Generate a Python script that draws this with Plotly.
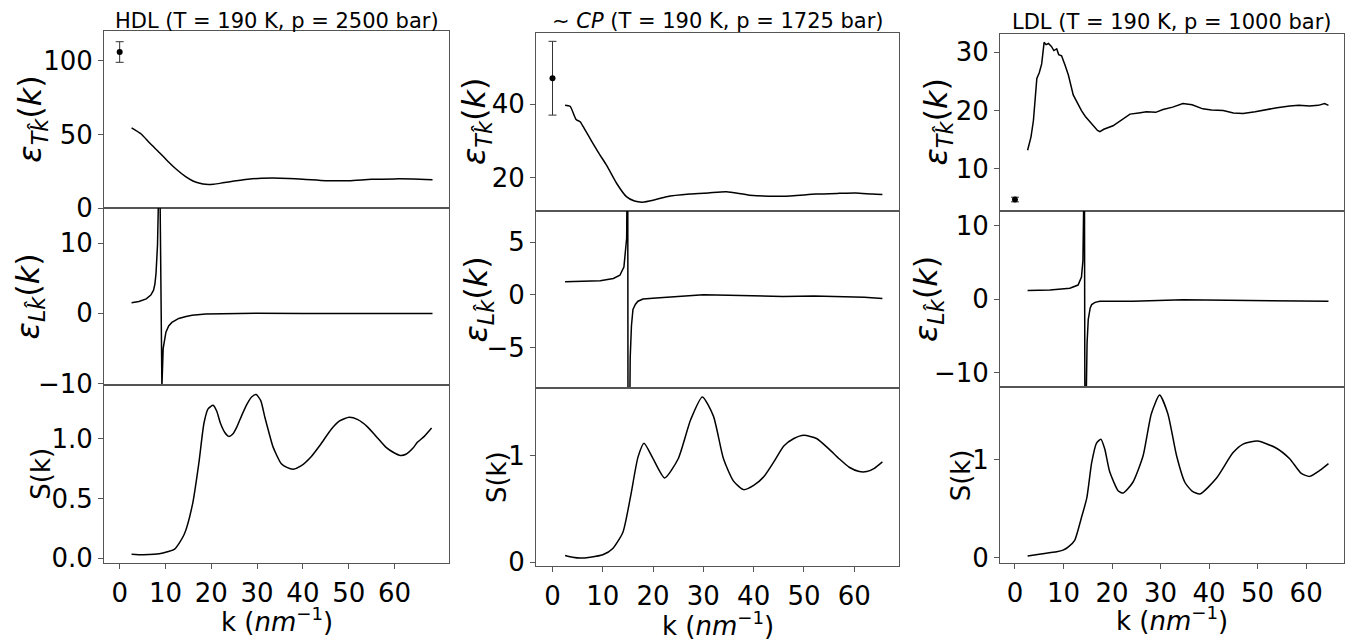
import plotly.graph_objects as go

# ---------------- data ----------------
# HDL (T = 190 K, p = 2500 bar)
k_hdl_T = [2.6, 4.7, 6.5, 8.7, 10.5, 12.5, 14.4, 16, 17.5, 18.8, 20.5, 22.5, 25, 28, 31, 35, 40, 45, 50, 55, 60, 64, 68.3]
eps_T_hdl = [54.5, 50.3, 44.3, 37.6, 31.8, 26.0, 21.3, 18.4, 16.8, 16.1, 16.2, 17.1, 18.3, 19.5, 20.2, 20.3, 19.6, 18.6, 18.6, 19.5, 19.8, 19.7, 19.2]
k0_hdl, eps0_hdl, err0_hdl = [0.0], [106.0], [7.0]

k_hdl_L = [2.6, 4.2, 5.8, 6.8, 7.4, 7.7, 7.94, 8.26, 8.45, 8.62, 9.22, 9.5, 10.1, 10.7, 11.4, 12.9, 14.5, 15.8, 18.8, 25, 30, 40, 50, 60, 68.3]
eps_L_hdl = [1.49, 1.68, 2.05, 2.6, 3.3, 4.2, 5.7, 9.7, 15.5, 30.0, -10.5, -5.0, -2.7, -1.8, -1.3, -0.74, -0.45, -0.28, -0.1, -0.02, 0.0, -0.05, -0.05, -0.05, -0.05]

k_hdl_S = [2.6, 5, 7.5, 9.7, 12, 14.1, 15.9, 17.3, 18.4, 19.3, 20.4, 21.2, 22, 23, 23.8, 24.7, 25.6, 26.7, 27.8, 28.8, 29.8,
           30.8, 31.7, 32.6, 33.5, 35.3, 36.5, 37.9, 39.5, 41.8, 44, 46.2, 48, 50.1, 52, 54.1, 56, 58.1, 59.8, 61.3,
           62.5, 64, 65, 66.5, 68.1]
S_hdl = [0.033, 0.028, 0.032, 0.046, 0.075, 0.2, 0.45, 0.80, 1.13, 1.25, 1.28, 1.23, 1.13, 1.05, 1.02, 1.04, 1.10, 1.2, 1.29, 1.35, 1.37,
         1.32, 1.18, 1.05, 0.93, 0.79, 0.76, 0.745, 0.77, 0.85, 0.96, 1.08, 1.15, 1.18, 1.16, 1.10, 1.02, 0.93, 0.885, 0.86,
         0.87, 0.92, 0.97, 1.02, 1.09]

# ~CP (T = 190 K, p = 1725 bar)
k_cp_T = [2.5, 3.5, 4.7, 5.5, 6.3, 7.8, 9.3, 10.8, 12.8, 14.7, 16.3, 17.9, 20, 22.7, 27.3, 31, 34.6, 39.2, 45.8, 52.4, 57, 60.3, 63.6, 65.6]
eps_T_cp = [39.7, 39.4, 35.8, 35.2, 33.4, 29.9, 26.5, 23.3, 18.4, 14.9, 13.7, 13.4, 13.9, 14.9, 15.6, 15.9, 16.2, 15.3, 15.0, 15.6, 15.8, 15.9, 15.6, 15.5]
k0_cp, eps0_cp, err0_cp = [0.0], [47.0], [10.0]

k_cp_L = [2.5, 6, 9.5, 12.1, 13.4, 14.2, 14.75, 14.95, 15.05, 15.45, 15.7, 16.0, 16.5, 17.0, 18.0, 20.6, 25, 30, 35, 40, 45.8, 52, 58, 62, 65.6]
eps_L_cp = [1.24, 1.27, 1.34, 1.55, 1.86, 2.64, 5.4, 20.0, -30.0, -6.0, -2.94, -1.39, -0.9, -0.61, -0.4, -0.31, -0.15, 0.0, -0.03, -0.08, -0.15, -0.12, -0.15, -0.22, -0.34]

k_cp_S = [2.5, 4, 5.5, 7.5, 10, 12, 14, 15.5, 17, 18.2, 20, 22.3, 25, 27.5, 29.8, 32, 34, 36, 38, 40, 42, 44, 46, 48, 50, 52.5,
          55, 57, 59, 61, 62.5, 64, 65.6]
S_cp = [0.061, 0.045, 0.037, 0.045, 0.068, 0.128, 0.28, 0.61, 0.985, 1.116, 0.97, 0.79, 0.97, 1.34, 1.55, 1.37, 0.97, 0.76, 0.68, 0.72, 0.80, 0.94, 1.09, 1.16, 1.19, 1.16,
        1.06, 0.97, 0.89, 0.85, 0.85, 0.88, 0.94]

# LDL (T = 190 K, p = 1000 bar)
k_ldl_T = [2.6, 3.3, 3.8, 4.5, 5.0, 5.5, 6.0, 6.4, 6.9, 7.5, 8.0, 8.6, 9.0, 9.6, 10.3, 11.0, 12.0, 13.0, 13.7, 14.5, 15.4, 16.5, 17.0, 17.5,
           18.3, 20.2, 22.0, 23.7, 25.5, 27.1, 29.0, 30.5, 32.5, 34.6, 36.5, 38.7, 40.5, 42.9, 45.0, 47.0, 49.5, 51.8, 54.0, 56.6,
           58.5, 60.7, 62.5, 63.8, 64.6]
eps_T_ldl = [13.2, 15.5, 18.3, 25.5, 26.5, 28.0, 31.7, 31.3, 31.5, 31.0, 30.3, 30.6, 29.6, 29.4, 27.8, 26.1, 22.7, 21.0, 20.0, 19.0, 18.1, 17.0, 16.6, 16.4,
             16.8, 17.4, 18.4, 19.4, 19.6, 19.8, 19.7, 20.2, 20.6, 21.2, 21.0, 20.3, 20.1, 20.0, 19.6, 19.5, 19.8, 20.2, 20.5, 20.8,
             20.9, 20.8, 20.9, 21.2, 20.9]
k0_ldl, eps0_ldl, err0_ldl = [0.0], [4.76], [0.4]

k_ldl_L = [2.6, 7.2, 11.3, 13.0, 13.7, 14.0, 14.3, 14.45, 14.7, 14.85, 15.1, 15.5, 15.8, 16.5, 17.5, 24.3, 34.6, 44.9, 55, 64.6]
eps_L_ldl = [1.15, 1.24, 1.46, 1.9, 3.0, 5.2, 20.0, -30.0, -12.5, -6.0, -2.75, -1.2, -0.75, -0.45, -0.3, -0.3, -0.09, -0.14, -0.2, -0.3]

k_ldl_S = [2.6, 5, 8.6, 9.9, 11, 12.3, 13.7, 14.8, 15.8, 16.8, 17.7, 18.5, 19.5, 21.3, 22.3, 24.3, 26.4, 28.1, 29.8, 31.5, 33.3,
           35, 36.5, 38.1, 41.5, 44.9, 47, 50, 53.8, 56.6, 59, 60.7, 62.8, 64.6]
S_ldl = [0.017, 0.035, 0.06, 0.077, 0.11, 0.177, 0.41, 0.61, 0.97, 1.17, 1.21, 1.11, 0.88, 0.68, 0.66, 0.77, 1.04, 1.47, 1.66, 1.47, 1.04,
         0.77, 0.68, 0.65, 0.81, 1.07, 1.16, 1.19, 1.12, 1.01, 0.86, 0.83, 0.89, 0.96]

titles = ["HDL (T = 190 K, p = 2500 bar)",
          "∼ <i>CP</i> (T = 190 K, p = 1725 bar)",
          "LDL (T = 190 K, p = 1000 bar)"]
x_ticks = [0, 10, 20, 30, 40, 50, 60]
y_ticks = [
    [[0, 50, 100], [-10, 0, 10], [0.0, 0.5, 1.0]],
    [[20, 40], [-5, 0, 5], [0, 1]],
    [[10, 20, 30], [-10, 0, 10], [0, 1]],
]
y_ticktext = [
    [["0", "50", "100"], ["−10", "0", "10"], ["0.0", "0.5", "1.0"]],
    [["20", "40"], ["−5", "0", "5"], ["0", "1"]],
    [["10", "20", "30"], ["−10", "0", "10"], ["0", "1"]],
]

# ---------------- layout geometry (pixels) ----------------
W, H = 1353, 643
col_x = [(104, 449), (536, 899), (1000, 1344)]
col_rows = [
    [(32, 213), (213, 394), (394, 576)],
    [(34, 215.7), (215.7, 397.7), (397.7, 579.3)],
    [(35, 215.7), (215.7, 396.7), (396.7, 576.7)],
]
x_ranges = [[-3.42, 71.9], [-3.28, 68.9], [-3.09, 67.8]]
y_ranges = [
    [[0, 120.1], [-10.2, 15.0], [-0.037, 1.452]],
    [[11.1, 59.2], [-8.9, 8.0], [-0.035, 1.63]],
    [[2.85, 33.1], [-12.0, 12.0], [-0.057, 1.738]],
]

FONT = "DejaVu Sans"
AX = "#555555"
TICK_SIZE = 26

series = [
    [(k_hdl_T, eps_T_hdl, "spline"), (k_hdl_L, eps_L_hdl, "linear"), (k_hdl_S, S_hdl, "spline")],
    [(k_cp_T, eps_T_cp, "spline"), (k_cp_L, eps_L_cp, "linear"), (k_cp_S, S_cp, "spline")],
    [(k_ldl_T, eps_T_ldl, "linear"), (k_ldl_L, eps_L_ldl, "linear"), (k_ldl_S, S_ldl, "spline")],
]
points = [(k0_hdl, eps0_hdl, err0_hdl), (k0_cp, eps0_cp, err0_cp), (k0_ldl, eps0_ldl, err0_ldl)]

fig = go.Figure()
layout = dict(width=W, height=H, margin=dict(l=0, r=0, t=0, b=0),
              paper_bgcolor="white", plot_bgcolor="white", showlegend=False,
              font=dict(family=FONT, color="black", size=TICK_SIZE))
annotations = []

for c in range(3):
    for r in range(3):
        idx = c * 3 + r + 1
        xs = "" if idx == 1 else str(idx)
        xa, ya = "x" + xs, "y" + xs
        kx, vy, shape = series[c][r]
        line = dict(color="black", width=1.5, shape=shape)
        if shape == "spline":
            line["smoothing"] = 0.6
        fig.add_trace(go.Scatter(x=kx, y=vy, mode="lines", xaxis=xa, yaxis=ya, line=line))
        if r == 0:
            kp, vp, ep = points[c]
            fig.add_trace(go.Scatter(x=kp, y=vp, mode="markers", xaxis=xa, yaxis=ya,
                                     marker=dict(color="black", size=6),
                                     error_y=dict(type="data", array=ep, color="#333333",
                                                  thickness=1, width=4)))
        x0, x1 = col_x[c]
        y0, y1 = col_rows[c][r]
        bottom = (r == 2)
        layout["xaxis" + xs] = dict(
            domain=[x0 / W, x1 / W], anchor=ya, range=x_ranges[c],
            showline=True, mirror=True, linecolor=AX, linewidth=1,
            showgrid=False, zeroline=False,
            ticks="outside" if bottom else "", ticklen=5, tickcolor=AX,
            tickvals=x_ticks, showticklabels=bottom, ticklabelstandoff=2,
            tickfont=dict(family=FONT, size=TICK_SIZE, color="black"),
        )
        layout["yaxis" + xs] = dict(
            domain=[1 - y1 / H, 1 - y0 / H], anchor=xa, range=y_ranges[c][r],
            showline=True, mirror=True, linecolor=AX, linewidth=1,
            showgrid=False, zeroline=False,
            ticks="outside", ticklen=5, tickcolor=AX,
            tickvals=y_ticks[c][r], ticktext=y_ticktext[c][r],
            tickfont=dict(family=FONT, size=TICK_SIZE, color="black"),
        )

# titles
title_y = [21, 22, 23]
for c in range(3):
    cx = (col_x[c][0] + col_x[c][1]) / 2
    annotations.append(dict(text=titles[c], x=cx / W, y=1 - title_y[c] / H, xref="paper", yref="paper",
                            xanchor="center", yanchor="middle", showarrow=False,
                            font=dict(family=FONT, size=21, color="black")))
# x titles
xt_y = [635, 639, 634]
for c in range(3):
    cx = (col_x[c][0] + col_x[c][1]) / 2
    annotations.append(dict(text="k (<i>nm</i><sup>−1</sup>)", x=cx / W, y=1 - xt_y[c] / H,
                            xref="paper", yref="paper", xanchor="center", yanchor="middle",
                            showarrow=False, font=dict(family=FONT, size=26, color="black")))
# y titles
ylab_x = [[32, 30, 41], [476, 478, 497], [938, 928, 961]]
ylab_text = ["<i>ε</i><sub><i>Tk̂</i></sub>(<i>k</i>)",
             "<i>ε</i><sub><i>Lk̂</i></sub>(<i>k</i>)",
             "S(k)"]
ylab_size = [32, 32, 26]
for c in range(3):
    for r in range(3):
        y0, y1 = col_rows[c][r]
        annotations.append(dict(text=ylab_text[r], x=ylab_x[c][r] / W, y=1 - (y0 + y1) / 2 / H,
                                xref="paper", yref="paper", xanchor="center", yanchor="middle",
                                textangle=-90, showarrow=False,
                                font=dict(family=FONT, size=ylab_size[r], color="black")))

layout["annotations"] = annotations
fig.update_layout(**layout)
fig.write_html("out.html")
